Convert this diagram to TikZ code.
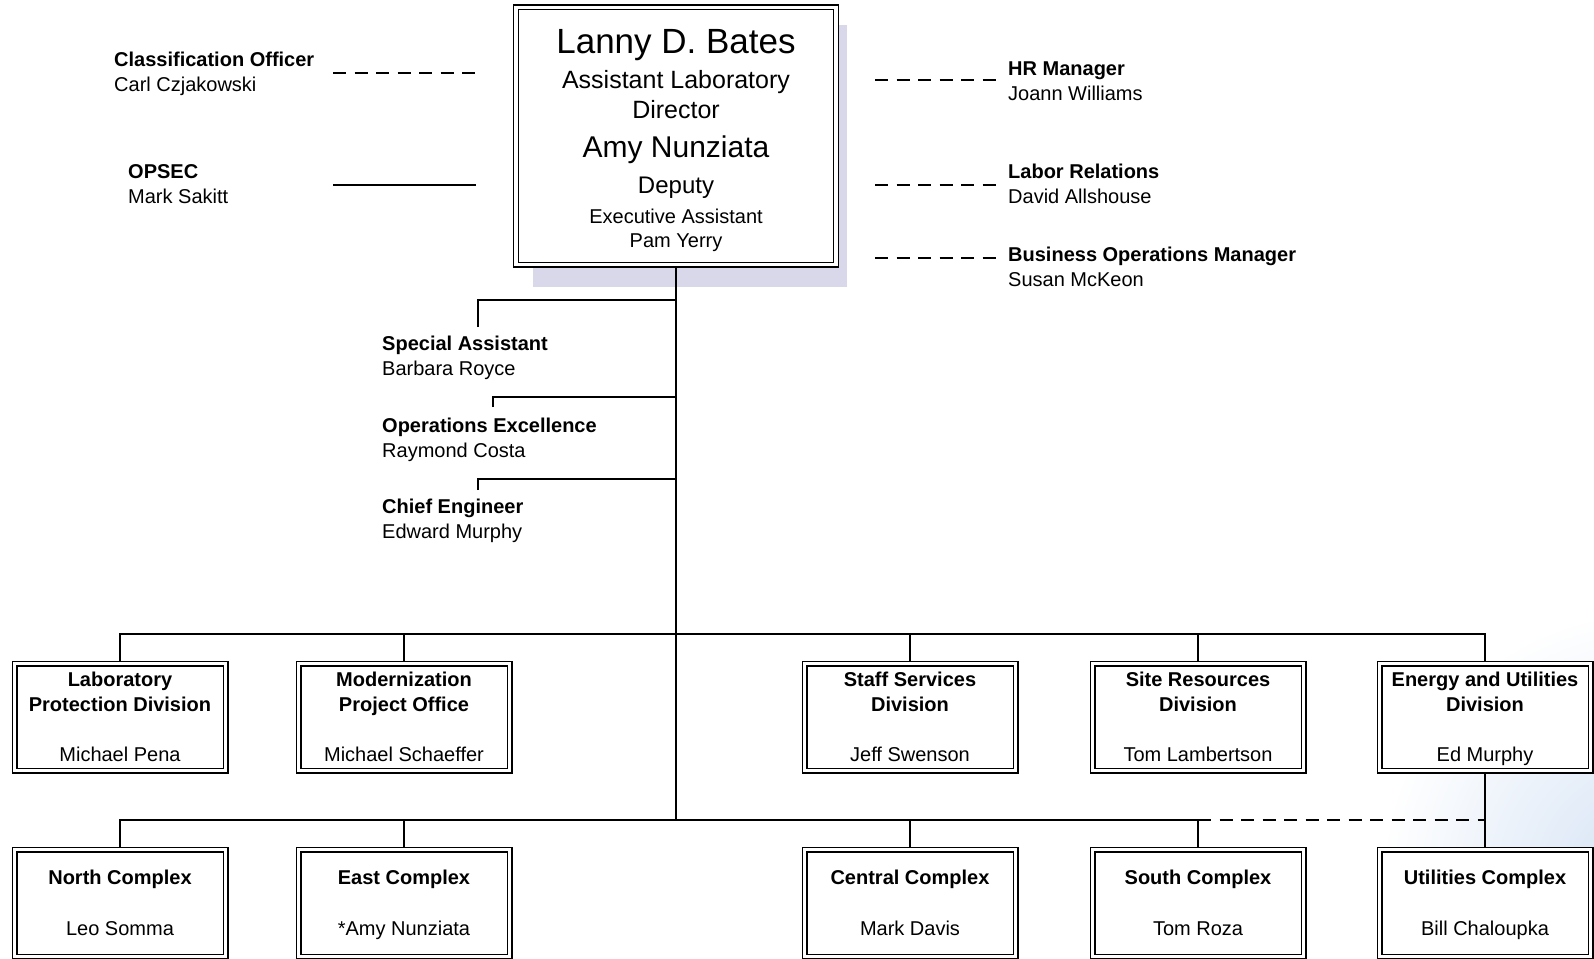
\documentclass[tikz,border=0pt]{standalone}
\usepackage{fontspec}
\setmainfont{Liberation Sans}
\usepackage{xcolor}
\usetikzlibrary{positioning,calc}

\definecolor{boxshadow}{RGB}{216,216,234}
\definecolor{scantint}{RGB}{212,226,244}

\tikzset{
  orgbox/.style={draw, double, double distance=3.4pt, line width=1.3pt, fill=white,
    inner sep=0pt, outer sep=3pt, align=center, text depth=0pt,
    font=\fontsize{20}{25}\selectfont},
  divbox/.style={orgbox, minimum width=211pt, minimum height=107pt},
  staff/.style={anchor=base west, inner sep=0pt, align=left, font=\fontsize{20}{25}\selectfont},
  toptext/.style={anchor=base, inner sep=0pt},
  link/.style={line width=1.4pt},
  dashlink/.style={line width=1.4pt, dash pattern=on 13pt off 8.5pt},
}

\begin{document}
\begin{tikzpicture}[x=1pt,y=-1pt]
    \useasboundingbox (0,0) rectangle (1594,958);

    % scanner tint, bottom right corner
    \shade[inner color=scantint, outer color=white] (1650,880) circle (270);

    % shadow behind the director box
    \fill[boxshadow] (533,25) rectangle (847,287);

    % Director box
    \node[orgbox, minimum width=320pt, minimum height=257pt] (ald) at (676,136) {};
    \node[toptext, font=\fontsize{35}{40}\selectfont] (ald-name) at (676,53) {Lanny D. Bates};
    \node[toptext, font=\fontsize{25}{30}\selectfont] (ald-role) at (676,88) {Assistant Laboratory};
    \node[toptext, font=\fontsize{25}{30}\selectfont] (ald-role2) at (676,118) {Director};
    \node[toptext, font=\fontsize{30}{35}\selectfont] (dep-name) at (676,157) {Amy Nunziata};
    \node[toptext, font=\fontsize{24}{28}\selectfont] (dep-role) at (676,193) {Deputy};
    \node[toptext, font=\fontsize{20}{24}\selectfont] (ea-role) at (676,223) {Executive Assistant};
    \node[toptext, font=\fontsize{20}{24}\selectfont] (ea-name) at (676,247) {Pam Yerry};

    % Staff left of the director
    \node[staff] (clo) at (114,92) {\textbf{Classification Officer}\\Carl Czjakowski};
    \node[staff] (ops) at (128,203) {\textbf{OPSEC}\\Mark Sakitt};
    \coordinate (clo-a) at (333,73);
    \coordinate (clo-b) at (478,73);
    \coordinate (ops-a) at (333,185);
    \coordinate (ops-b) at (476,185);
    \draw[dashlink] (clo-a) -- (clo-b);
    \draw[link] (ops-a) -- (ops-b);

    % Staff right of the director
    \node[staff] (hrm) at (1008,100) {\textbf{HR Manager}\\Joann Williams};
    \node[staff] (lab) at (1008,203) {\textbf{Labor Relations}\\David Allshouse};
    \node[staff] (bom) at (1008,286) {\textbf{Business Operations Manager}\\Susan McKeon};
    \coordinate (hrm-a) at (875,80);
    \coordinate (hrm-b) at (997,80);
    \coordinate (lab-a) at (875,185);
    \coordinate (lab-b) at (997,185);
    \coordinate (bom-a) at (875,258);
    \coordinate (bom-b) at (997,258);
    \draw[dashlink] (hrm-a) -- (hrm-b);
    \draw[dashlink] (lab-a) -- (lab-b);
    \draw[dashlink] (bom-a) -- (bom-b);

    % Staff below the director
    \node[staff] (spa) at (382,375) {\textbf{Special Assistant}\\Barbara Royce};
    \node[staff] (opx) at (382,457) {\textbf{Operations Excellence}\\Raymond Costa};
    \node[staff] (che) at (382,538) {\textbf{Chief Engineer}\\Edward Murphy};
    \coordinate (spa-tick) at (478,327);
    \coordinate (opx-tick) at (493,407);
    \coordinate (che-tick) at (478,490);
    \coordinate (spa-join) at (676,300);
    \coordinate (opx-join) at (676,397);
    \coordinate (che-join) at (676,479);
    \draw[link] (spa-tick) |- (spa-join);
    \draw[link] (opx-tick) |- (opx-join);
    \draw[link] (che-tick) |- (che-join);

    % Divisions
    \node[divbox] (lpd) at (120,717) {\textbf{Laboratory}\\\textbf{Protection Division}\\[25pt]Michael Pena};
    \node[divbox] (mpo) at (404,717) {\textbf{Modernization}\\\textbf{Project Office}\\[25pt]Michael Schaeffer};
    \node[divbox] (ssd) at (910,717) {\textbf{Staff Services}\\\textbf{Division}\\[25pt]Jeff Swenson};
    \node[divbox] (srd) at (1198,717) {\textbf{Site Resources}\\\textbf{Division}\\[25pt]Tom Lambertson};
    \node[divbox] (eud) at (1485,717) {\textbf{Energy and Utilities}\\\textbf{Division}\\[25pt]Ed Murphy};

    % Complexes
    \node[divbox] (nc) at (120,903) {\textbf{North Complex}\\[26pt]Leo Somma};
    \node[divbox] (ec) at (404,903) {\textbf{East Complex}\\[26pt]*Amy Nunziata};
    \node[divbox] (cc) at (910,903) {\textbf{Central Complex}\\[26pt]Mark Davis};
    \node[divbox] (sc) at (1198,903) {\textbf{South Complex}\\[26pt]Tom Roza};
    \node[divbox] (uc) at (1485,903) {\textbf{Utilities Complex}\\[26pt]Bill Chaloupka};

    % lines to divisions and complexes
    \coordinate (bus-div) at (676,634);
    \coordinate (bus-cx) at (676,820);
    \draw[link] (ald.south) -- (bus-cx);
    \draw[link] (lpd.north) |- (bus-div) -| (eud.north);
    \draw[link] (mpo.north) -- (mpo.north |- bus-div);
    \draw[link] (ssd.north) -- (ssd.north |- bus-div);
    \draw[link] (srd.north) -- (srd.north |- bus-div);
    \draw[link] (nc.north) |- (bus-cx) -| (sc.north);
    \draw[link] (ec.north) -- (ec.north |- bus-cx);
    \draw[link] (cc.north) -- (cc.north |- bus-cx);
    \draw[dashlink] (sc.north |- bus-cx) -- (uc.north |- bus-cx);
    \draw[link] (eud.south) -- (uc.north);
\end{tikzpicture}
\end{document}
